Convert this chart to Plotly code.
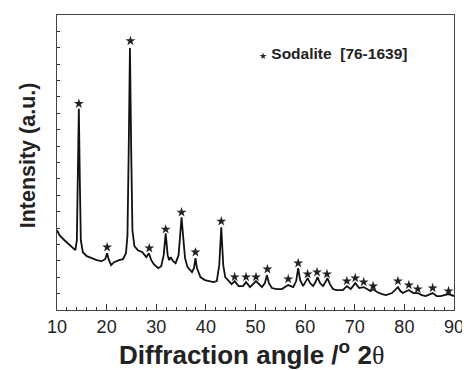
import plotly.graph_objects as go

# Diffraction pattern (2-theta in degrees, intensity in arbitrary units)
two_theta = [10.0, 10.5, 11.5, 12.5, 13.3, 13.7, 14.0, 14.2, 14.4, 14.6, 14.8, 15.2, 16.0, 17.0, 18.0,
             19.0, 19.7, 20.1, 20.4, 20.9, 21.5, 22.5, 23.3, 23.9, 24.2, 24.45, 24.7, 24.95, 25.2, 25.6,
             26.3, 27.2, 28.0, 28.5, 29.0, 29.5, 30.4, 31.0, 31.5, 31.9, 32.3, 32.6, 32.9, 33.4, 33.9,
             34.5, 34.85, 35.1, 35.4, 35.8, 36.3, 37.2, 37.6, 37.9, 38.2, 38.9, 39.8, 40.6, 41.5, 42.2,
             42.7, 43.1, 43.5, 43.9, 44.9, 45.2, 45.8, 46.6, 47.5, 48.1, 48.9, 50.1, 51.3, 51.9, 52.3,
             52.7, 53.3, 54.3, 55.3, 56.6, 57.6, 58.2, 58.6, 59.0, 59.6, 60.1, 60.5, 61.0, 61.6, 62.1,
             62.5, 63.0, 63.6, 64.1, 64.5, 65.0, 65.6, 66.3, 67.6, 68.4, 69.2, 70.1, 70.9, 71.8, 72.7,
             73.2, 73.7, 74.5, 75.5, 76.3, 77.5, 78.3, 78.7, 79.2, 79.7, 80.9, 81.8, 82.7, 83.5, 84.3,
             85.7, 86.5, 87.3, 88.9, 90.0]
intensity = [80, 75, 70, 65, 62, 60, 70, 130, 202, 130, 70, 58, 54, 52, 50,
             49, 51, 57, 51, 45, 48, 50, 51, 57, 75, 160, 263, 160, 80, 64,
             60, 58, 53, 57, 50, 46, 42, 44, 55, 77, 55, 50, 53, 49, 47,
             55, 80, 93, 75, 52, 43, 38, 42, 52, 42, 33, 30, 29, 28, 29,
             45, 83, 45, 33, 28, 26, 29, 24, 24, 28, 23, 29, 23, 27, 35,
             27, 22, 21, 21, 25, 23, 29, 42, 30, 24, 28, 32, 27, 24, 28,
             33, 27, 24, 28, 32, 26, 21, 20, 20, 24, 21, 27, 22, 23, 20,
             19, 21, 18, 16, 15, 17, 21, 23, 19, 17, 20, 17, 17, 15, 14,
             17, 14, 14, 16, 14]

# Sodalite reflections marked with stars
star_theta = [14.4, 20.1, 24.8, 28.6, 31.9, 35.1, 37.9, 43.1, 45.8, 48.1, 50.1, 52.4, 56.6,
              58.6, 60.5, 62.4, 64.4, 68.4, 70.1, 71.8, 73.7, 78.7, 80.9, 82.7, 85.7, 88.9]
star_int = [207, 63, 270, 62, 81, 98, 58, 89, 33, 33, 33, 41, 31,
            47, 36, 38, 36, 29, 32, 28, 24, 29, 25, 21, 22, 19]

x_ticks = [10, 20, 30, 40, 50, 60, 70, 80, 90]
legend_text = "Sodalite  [76-1639]"

FONT = "Liberation Sans, Arial, sans-serif"

fig = go.Figure()
fig.add_trace(go.Scatter(x=two_theta, y=intensity, mode="lines",
                         line=dict(color="#111111", width=1.8), showlegend=False))
fig.add_trace(go.Scatter(x=star_theta, y=star_int, mode="markers",
                         marker=dict(symbol="star", size=7.5, color="#222222"), showlegend=False))

# the page body adds an 8px offset, so the figure is sized/margined to compensate
fig.update_layout(
    width=462, height=362,
    margin=dict(l=49, r=13, t=6, b=60),
    paper_bgcolor="white", plot_bgcolor="white",
    font=dict(family=FONT, color="#222222"),
    xaxis=dict(range=[10, 90], tickvals=x_ticks, ticks="inside", ticklen=6, tickwidth=1,
               tickcolor="#333333", showline=True, linecolor="#444444", linewidth=1, mirror=True,
               showgrid=False, zeroline=False, tickfont=dict(size=18, family=FONT, color="#222222"),
               minor=dict(dtick=2, ticks="inside", ticklen=3, tickcolor="#333333")),
    yaxis=dict(range=[0, 296], dtick=296 / 18, tick0=0, ticks="inside", ticklen=3, tickwidth=1,
               tickcolor="#333333", showticklabels=False, showline=True, linecolor="#444444",
               linewidth=1, mirror=True, showgrid=False, zeroline=False),
    annotations=[
        dict(text="<b>Intensity (a.u.)</b>", x=(28 - 57) / 400, y=0.525, xref="paper", yref="paper",
             xanchor="center", yanchor="middle", textangle=-90, showarrow=False,
             font=dict(size=21.5, family=FONT, color="#222222")),
        dict(text="<b>Diffraction angle /<sup><span style='font-size:19px'>o</span></sup> 2</b>"
                  "<span style='font-family:Liberation Serif'>θ</span>",
             x=0.49, y=-0.082, xref="paper", yref="paper", xanchor="center", yanchor="top",
             showarrow=False, font=dict(size=26, family=FONT, color="#222222")),
        dict(text="<span style='font-size:9px'>★</span> <b>" + legend_text + "</b>",
             x=0.505, y=0.868, xref="paper", yref="paper", xanchor="left", yanchor="middle",
             showarrow=False, font=dict(size=15.5, family=FONT, color="#222222")),
    ],
)

fig.write_html("out.html")
